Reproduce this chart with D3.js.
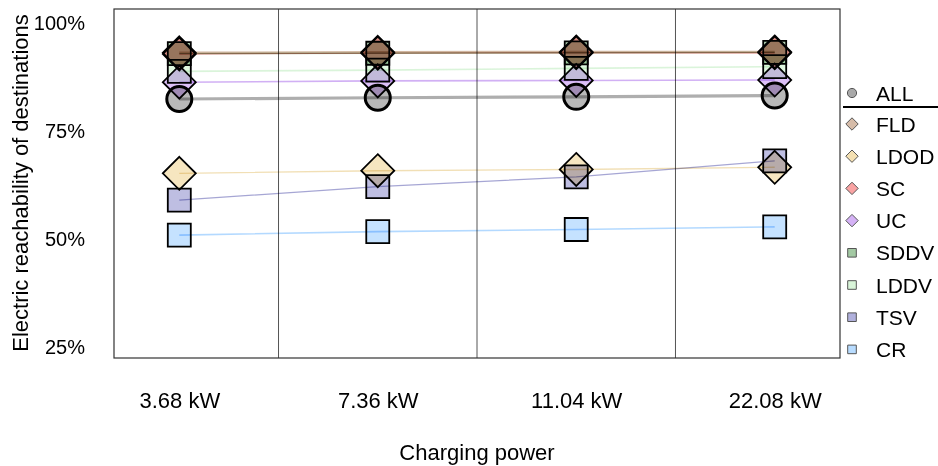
<!DOCTYPE html>
<html>
<head>
<meta charset="utf-8">
<script src="https://cdn.jsdelivr.net/npm/d3@7/dist/d3.min.js"></script>
<style>
  html, body { margin: 0; padding: 0; background: #fff; }
  svg { display: block; font-family: "Liberation Sans", Arial, Helvetica, sans-serif; }
</style>
</head>
<body>
<svg id="chart" width="938" height="466"></svg>
<script>
// Charging power levels (x categories)
const powers = ["3.68 kW", "7.36 kW", "11.04 kW", "22.08 kW"];

// Share of destinations reachable electrically (%), per user group
const ALL  = [82.4, 82.7, 82.9, 83.2];
const FLD  = [93.1, 93.2, 93.3, 93.3];
const LDOD = [65.2, 65.8, 66.1, 66.6];
const SC   = [92.8, 93.0, 93.1, 93.1];
const UC   = [86.3, 86.6, 86.7, 86.8];
const SDDV = [92.9, 93.0, 93.1, 93.2];
const LDDV = [88.8, 89.1, 89.5, 89.9];
const TSV  = [59.0, 62.1, 64.4, 68.1];
const CR   = [50.9, 51.7, 52.2, 52.8];

const groupNames = ["ALL", "FLD", "LDOD", "SC", "UC", "SDDV", "LDDV", "TSV", "CR"];
const groupValues = [ALL, FLD, LDOD, SC, UC, SDDV, LDDV, TSV, CR];

const yTicks = [25, 50, 75, 100];

// Visual encoding per group
const shapeOf = { ALL: "circle", FLD: "diamond", LDOD: "diamond", SC: "diamond", UC: "diamond",
                  SDDV: "square", LDDV: "square", TSV: "square", CR: "square" };
const fillOf = { ALL: "#a9a9a9", FLD: "#d6bca9", LDOD: "#f4e0b2", SC: "#f9a3a3", UC: "#d5b2f6",
                 SDDV: "#a3c9a3", LDDV: "#d9f5d9", TSV: "#b0b0dc", CR: "#b8dcff" };
const lineOf = { ALL: "#a0a0a0", FLD: "#c9a98f", LDOD: "#efd9a8", SC: "#f08a8a", UC: "#c9a2f2",
                 SDDV: "#9cc49c", LDDV: "#d4f2d4", TSV: "#9696cc", CR: "#a6d2ff" };
const lineW = { ALL: 3.2, FLD: 2.5, LDOD: 1.4, SC: 1.2, UC: 1.6, SDDV: 1.4, LDDV: 1.6, TSV: 1.3, CR: 1.6 };

const svg = d3.select("#chart");
const panel = { left: 114, right: 840, top: 9, bottom: 358 };

const x = d3.scalePoint().domain(powers).range([panel.left, panel.right]).padding(0.329);
const y = d3.scaleLinear().domain([22.45, 103.24]).range([panel.bottom, panel.top]);

// Separators between charging power columns
const mids = powers.slice(1).map((p, i) => (x(powers[i]) + x(p)) / 2);
svg.append("g").selectAll("line").data(mids).join("line")
  .attr("x1", d => d).attr("x2", d => d)
  .attr("y1", panel.top).attr("y2", panel.bottom)
  .attr("stroke", "#555").attr("stroke-width", 1);

// Panel frame
svg.append("rect")
  .attr("x", panel.left).attr("y", panel.top)
  .attr("width", panel.right - panel.left).attr("height", panel.bottom - panel.top)
  .attr("fill", "none").attr("stroke", "#333").attr("stroke-width", 1.2);

// Y axis labels (no tick marks)
const yAxis = d3.axisLeft(y).tickValues(yTicks).tickFormat(d => d + "%").tickSize(0).tickPadding(0);
const gy = svg.append("g").attr("transform", "translate(85,0)").call(yAxis);
gy.select(".domain").remove();
gy.selectAll("text").attr("font-size", 20).attr("fill", "#000")
  .attr("font-family", "'Liberation Sans', Arial, sans-serif");

// X axis labels
const xAxis = d3.axisBottom(x).tickSize(0).tickPadding(0);
const gx = svg.append("g").attr("transform", "translate(0,392)").call(xAxis);
gx.select(".domain").remove();
gx.selectAll("text").attr("font-size", 22).attr("fill", "#000")
  .attr("font-family", "'Liberation Sans', Arial, sans-serif");

// Axis titles
svg.append("text").attr("x", (panel.left + panel.right) / 2).attr("y", 460)
  .attr("text-anchor", "middle").attr("font-size", 22).text("Charging power");
svg.append("text").attr("transform", "translate(28,183) rotate(-90)")
  .attr("text-anchor", "middle").attr("font-size", 22).text("Electric reachability of destinations");

// Marker path generators
function markerPath(shape, s) {
  if (shape === "diamond") return `M0,${-s}L${s},0L0,${s}L${-s},0Z`;
  if (shape === "square") return `M${-s},${-s}H${s}V${s}H${-s}Z`;
  return `M${-s},0A${s},${s} 0 1,0 ${s},0A${s},${s} 0 1,0 ${-s},0Z`;
}
const plotSize = { circle: 12.5, diamond: 16.5, square: 11.5 };

const series = groupNames.map((g, i) => ({
  name: g,
  pts: groupValues[i].map((v, j) => ({ p: powers[j], v }))
}));

const line = d3.line().x(d => x(d.p)).y(d => y(d.v));
const plot = svg.append("g");

series.forEach(s => {
  const g = plot.append("g");
  g.selectAll("path.mk").data(s.pts).join("path").attr("class", "mk")
    .attr("transform", d => `translate(${x(d.p)},${y(d.v)})`)
    .attr("d", markerPath(shapeOf[s.name], plotSize[shapeOf[s.name]]))
    .attr("fill", fillOf[s.name]).attr("fill-opacity", 0.82)
    .attr("stroke", "#000").attr("stroke-width", s.name === "ALL" ? 3 : 1.8)
    .style("mix-blend-mode", "multiply");
  g.append("path").datum(s.pts).attr("d", line)
    .attr("fill", "none").attr("stroke", lineOf[s.name])
    .attr("stroke-width", lineW[s.name]).attr("stroke-opacity", 0.85)
    .style("mix-blend-mode", "multiply");
});

// Legend
const legend = svg.append("g");
const legendY = groupNames.map((g, i) => i === 0 ? 93 : 124 + (i - 1) * 32.2);
const legendSize = { circle: 4.6, diamond: 6.2, square: 4.3 };
groupNames.forEach((g, i) => {
  const sh = shapeOf[g];
  legend.append("path")
    .attr("transform", `translate(852,${legendY[i]})`)
    .attr("d", markerPath(sh, legendSize[sh]))
    .attr("fill", fillOf[g]).attr("stroke", "#555").attr("stroke-width", 1);
  legend.append("text").attr("x", 876).attr("y", legendY[i]).attr("dy", "0.36em")
    .attr("font-size", 21).text(g);
});
legend.append("line").attr("x1", 843).attr("x2", 938).attr("y1", 107).attr("y2", 107)
  .attr("stroke", "#000").attr("stroke-width", 2);
</script>
</body>
</html>
